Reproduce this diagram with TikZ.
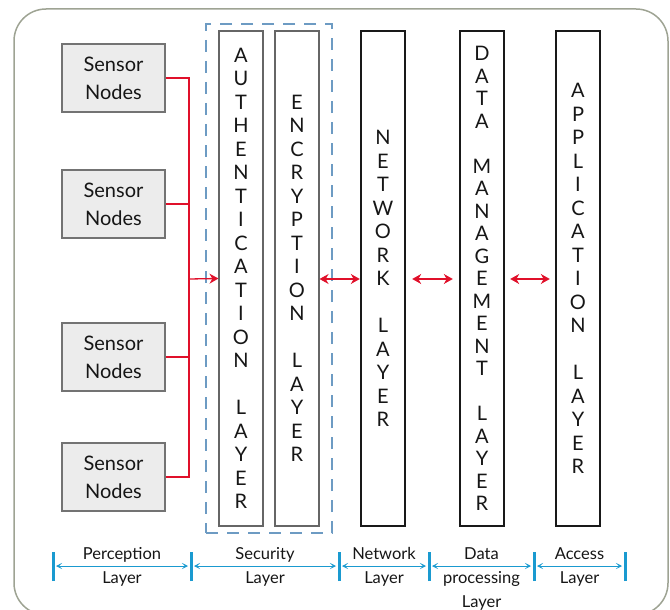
\documentclass[tikz,border=0pt]{standalone}
\usepackage{fontspec}
\setmainfont{Lato}
\usetikzlibrary{arrows.meta}
\definecolor{frame}{HTML}{9EA393}
\definecolor{redarr}{HTML}{E0102A}
\definecolor{bluebar}{HTML}{1A9AD0}
\definecolor{dashblue}{HTML}{6D9BC3}
\definecolor{txt}{HTML}{161616}
\definecolor{sensfill}{HTML}{ECECEC}
\tikzset{
  sensor/.style={draw=black!55, line width=1.2pt, fill=sensfill, minimum width=103pt, minimum height=68pt,
    inner sep=0pt, align=center, text=txt, font=\fontsize{20}{28}\selectfont},
  seclayer/.style={draw=black!60, line width=1.1pt, minimum width=44pt, minimum height=495pt,
    inner sep=0pt, align=center, text=txt, font=\fontsize{20}{23.5}\selectfont},
  mainlayer/.style={draw=black!90, line width=2.4pt, minimum width=44pt, minimum height=495pt,
    inner sep=0pt, align=center, text=txt, font=\fontsize{20}{23.5}\selectfont},
  redline/.style={draw=redarr, line width=1.3pt},
  redarrow/.style={redline, -{Stealth[length=9pt,width=10pt]}},
  reddbl/.style={redline, {Stealth[length=9pt,width=10pt]}-{Stealth[length=9pt,width=10pt]}},
  bar/.style={draw=bluebar, line width=3pt},
  span/.style={draw=bluebar, line width=1pt, {Stealth[length=6pt,width=6pt,inset=3pt]}-{Stealth[length=6pt,width=6pt,inset=3pt]}},
  lbl/.style={align=center, text=txt, inner sep=0pt, font=\fontsize{16.5}{24}\selectfont},
}
\begin{document}
\begin{tikzpicture}[x=1pt,y=-1pt]
\useasboundingbox (0,0) rectangle (670,610);
\node[draw=frame, line width=1.5pt, rounded corners=32pt, minimum width=654pt, minimum height=606pt, inner sep=0pt] (frame) at (341,312) {};

% sensor nodes
\node[sensor] (s1) at (113.5,78) {Sensor\\Nodes};
\node[sensor] (s2) at (113.5,204) {Sensor\\Nodes};
\node[sensor] (s3) at (113.5,357) {Sensor\\Nodes};
\node[sensor] (s4) at (113.5,477) {Sensor\\Nodes};

% security dashed region
\node[draw=dashblue, line width=1.1pt, dash pattern=on 12pt off 9pt, minimum width=126pt, minimum height=509pt, inner sep=0pt] (sec) at (269,278.5) {};

% layers
\node[seclayer] (auth) at (241,278.5) {A\\U\\T\\H\\E\\N\\T\\I\\C\\A\\T\\I\\O\\N\\{}\\L\\A\\Y\\E\\R};
\node[seclayer] (enc) at (297,278.5) {E\\N\\C\\R\\Y\\P\\T\\I\\O\\N\\{}\\L\\A\\Y\\E\\R};
\node[mainlayer] (net) at (383,278.5) {N\\E\\T\\W\\O\\R\\K\\{}\\L\\A\\Y\\E\\R};
\node[mainlayer, font=\fontsize{20}{22.5}\selectfont] (data) at (482,278.5) {D\\A\\T\\A\\{}\\M\\A\\N\\A\\G\\E\\M\\E\\N\\T\\{}\\L\\A\\Y\\E\\R};
\node[mainlayer] (app) at (578,278.5) {A\\P\\P\\L\\I\\C\\A\\T\\I\\O\\N\\{}\\L\\A\\Y\\E\\R};

% red connectors
\coordinate (j) at (189,279);
\draw[redline] (s1.east) -| (j);
\draw[redline] (s4.east) -| (j);
\draw[redline] (s2.east) -- (s2.east -| j);
\draw[redline] (s3.east) -- (s3.east -| j);
\draw[redarrow] (j) -- (auth.west);
\draw[reddbl] (enc.east |- j) -- (net.west |- j);
\draw[reddbl, shorten <=6pt, shorten >=6pt] (net.east |- j) -- (data.west |- j);
\draw[reddbl, shorten <=5pt, shorten >=5pt] (data.east |- j) -- (app.west |- j);

% bottom bars
\coordinate (b1) at (53,566);
\coordinate (b2) at (191,566);
\coordinate (b3) at (339,566);
\coordinate (b4) at (429,566);
\coordinate (b5) at (534,566);
\coordinate (b6) at (625,566);
\foreach \b in {b1,b2,b3,b4,b5,b6} \draw[bar] ([yshift=-15pt]\b) -- ([yshift=14pt]\b);
\draw[span, shorten <=3pt, shorten >=3pt] (b1) -- (b2);
\draw[span, shorten <=3pt, shorten >=3pt] (b2) -- (b3);
\draw[span, shorten <=3pt, shorten >=3pt] (b3) -- (b4);
\draw[span, shorten <=3pt, shorten >=3pt] (b4) -- (b5);
\draw[span, shorten <=3pt, shorten >=3pt] (b5) -- (b6);

% labels
\node[lbl, anchor=north] (l1) at (122,547) {Perception\\Layer};
\node[lbl, anchor=north] (l2) at (265,547) {Security\\Layer};
\node[lbl, anchor=north] (l3) at (384,547) {Network\\Layer};
\node[lbl, anchor=north] (l4) at (481.5,547) {Data\\processing\\Layer};
\node[lbl, anchor=north] (l5) at (579.5,547) {Access\\Layer};
\end{tikzpicture}
\end{document}
